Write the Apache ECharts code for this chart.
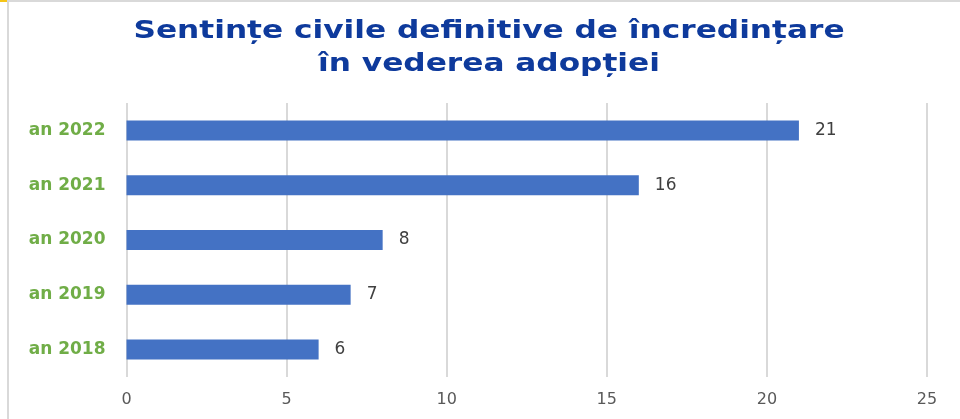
<!DOCTYPE html>
<html>
<head>
    <meta charset="utf-8">
    <title>ECharts</title>
    <script src="https://cdn.jsdelivr.net/npm/echarts@6/dist/echarts.min.js"></script>
    <style>
        html, body { margin: 0; padding: 0; background: #fff; }
    </style>
</head>
<body>
    <div id="main" style="width: 960px;height:419px;"></div>
    <script type="text/javascript">
        var categories = ['an 2018', 'an 2019', 'an 2020', 'an 2021', 'an 2022'];
        var values = [6, 7, 8, 16, 21];
        var titleLines = ['Sentințe civile definitive de încredințare', 'în vederea adopției'];

        var myChart = echarts.init(document.getElementById('main'));

        var option = {
            animation: false,
            backgroundColor: '#ffffff',
            graphic: [
                { type: 'rect', shape: { x: 0, y: 0, width: 960, height: 2 }, style: { fill: '#d9d9d9' } },
                { type: 'rect', shape: { x: 7, y: 0, width: 2, height: 419 }, style: { fill: '#d9d9d9' } },
                { type: 'rect', shape: { x: 0, y: 0, width: 7, height: 2 }, style: { fill: '#f5c518' } },
                // titlul, latit pe orizontala ca in original
                {
                    type: 'text',
                    x: 489,
                    y: 15,
                    scaleX: 1.3,
                    style: {
                        text: titleLines.join('\n'),
                        align: 'center',
                        verticalAlign: 'top',
                        fontFamily: 'DejaVu Sans',
                        fontWeight: 'bold',
                        fontSize: 24,
                        lineHeight: 33,
                        fill: '#0E3A9C'
                    }
                }
            ],
            grid: {
                left: 126.5,
                right: 33,
                top: 103,
                bottom: 42,
                containLabel: false
            },
            xAxis: {
                type: 'value',
                min: 0,
                max: 25,
                interval: 5,
                axisLine: { show: false },
                axisTick: { show: false },
                axisLabel: {
                    margin: 15,
                    fontFamily: 'DejaVu Sans',
                    fontSize: 16,
                    color: '#595959'
                },
                splitLine: { lineStyle: { color: '#d9d9d9', width: 2 } }
            },
            yAxis: {
                type: 'category',
                data: categories,
                axisLine: { show: false },
                axisTick: { show: false },
                axisLabel: {
                    margin: 21,
                    fontFamily: 'DejaVu Sans',
                    fontWeight: 'bold',
                    fontSize: 17,
                    color: '#70AD47'
                }
            },
            series: [{
                type: 'bar',
                data: values,
                barWidth: 20,
                itemStyle: { color: '#4472C4' },
                label: {
                    show: true,
                    position: 'right',
                    distance: 16,
                    fontFamily: 'DejaVu Sans',
                    fontSize: 17,
                    color: '#404040'
                }
            }]
        };

        myChart.setOption(option);
    </script>
</body>
</html>
